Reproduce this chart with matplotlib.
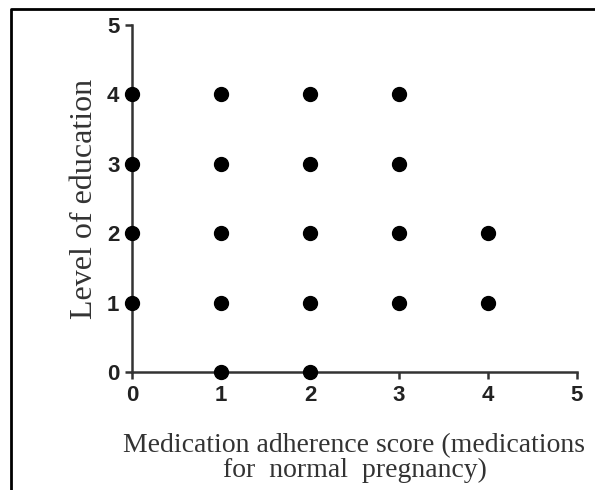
import matplotlib.pyplot as plt
from matplotlib.lines import Line2D

# adherence score (x) and level of education (y) for each observed pair
adherence_score = [0, 0, 0, 0,
                   1, 1, 1, 1, 1,
                   2, 2, 2, 2, 2,
                   3, 3, 3, 3,
                   4, 4]
education_level = [1, 2, 3, 4,
                   0, 1, 2, 3, 4,
                   0, 1, 2, 3, 4,
                   1, 2, 3, 4,
                   1, 2]
tick_values = [0, 1, 2, 3, 4, 5]

fig = plt.figure(figsize=(5.95, 4.9), dpi=100)
ax = fig.add_axes([0.2218, 0.2408, 0.7479, 0.7082])

ax.plot(adherence_score, education_level, "o", color="black",
        markersize=10, clip_on=False, zorder=3)

ax.set_xlim(0, 5)
ax.set_ylim(0, 5)
ax.set_xticks(tick_values)
ax.set_yticks(tick_values)

for side in ("top", "right"):
    ax.spines[side].set_visible(False)
for side in ("left", "bottom"):
    ax.spines[side].set_linewidth(1.8)
    ax.spines[side].set_color("#333333")
ax.tick_params(direction="out", length=5, width=1.8, color="#333333", pad=4)

for lbl in ax.get_xticklabels() + ax.get_yticklabels():
    lbl.set_fontfamily("Liberation Sans")
    lbl.set_fontweight("bold")
    lbl.set_fontsize(16)
    lbl.set_color("#222222")

ax.set_xlabel("Medication adherence score (medications\nfor  normal  pregnancy)",
              fontfamily="Liberation Serif", fontsize=20, color="#333333",
              labelpad=20, linespacing=1.0)
ax.set_ylabel("Level of education", fontfamily="Liberation Serif",
              fontsize=23, color="#333333", labelpad=6)

# partial frame around the figure (left and top edges)
fig.add_artist(Line2D([11 / 595, 11 / 595, 1.0], [0.0, 1 - 9 / 490, 1 - 9 / 490],
                      transform=fig.transFigure, color="black", linewidth=2))

fig.savefig("out.png", dpi=100)
